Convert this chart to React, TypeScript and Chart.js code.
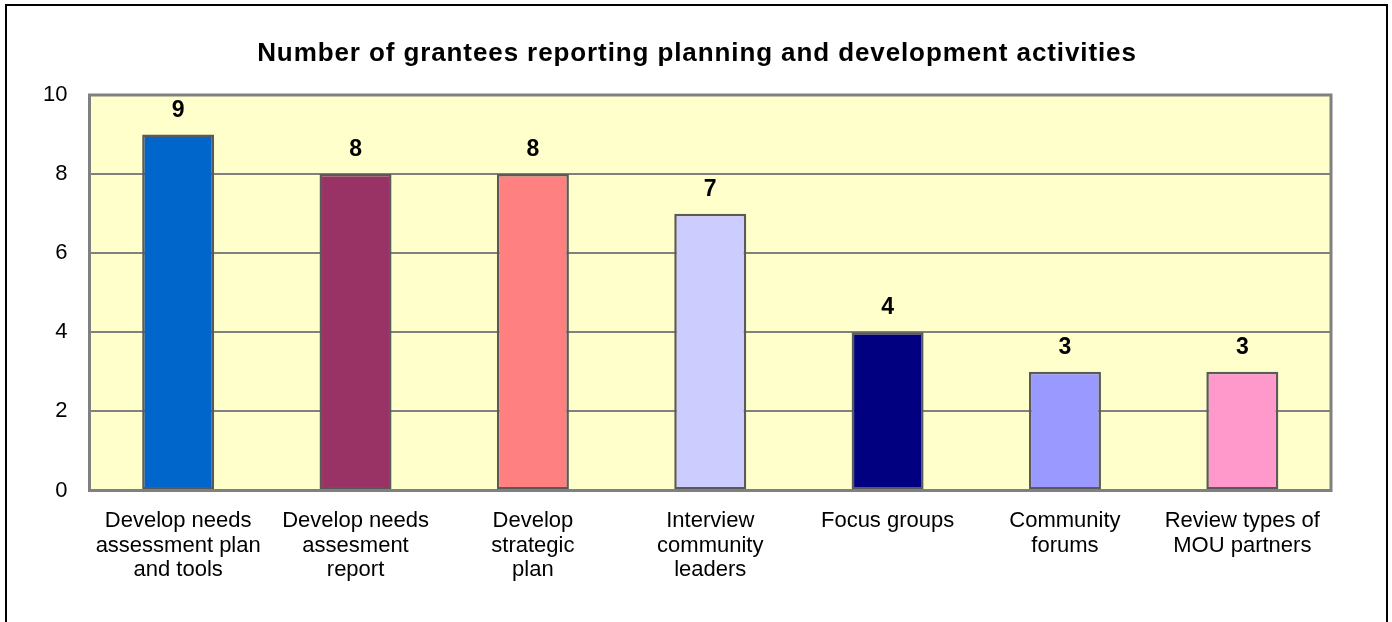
import React, { useEffect, useRef } from "react";
import { Chart, registerables } from "chart.js";

Chart.register(...registerables);

const titleText = "Number of grantees reporting planning and development activities";
const categories: string[][] = [
  ["Develop needs", "assessment plan", "and tools"],
  ["Develop needs", "assesment", "report"],
  ["Develop", "strategic", "plan"],
  ["Interview", "community", "leaders"],
  ["Focus groups"],
  ["Community", "forums"],
  ["Review types of", "MOU partners"],
];
const values: number[] = [9, 8, 8, 7, 4, 3, 3];
const barColors: string[] = ["#0066CC", "#993366", "#FF8080", "#CCCCFF", "#000080", "#9999FF", "#FF99CC"];
const yTicks: number[] = [0, 2, 4, 6, 8, 10];

const FONT = "'Liberation Sans', Arial, sans-serif";

const chartDecor = {
  id: "chartDecor",
  beforeDraw(chart: any) {
    const { ctx, chartArea } = chart;
    ctx.save();
    ctx.fillStyle = "#FFFFCC";
    ctx.fillRect(chartArea.left, chartArea.top, chartArea.right - chartArea.left, chartArea.bottom - chartArea.top);
    ctx.restore();
  },
  afterDatasetsDraw(chart: any) {
    const { ctx, chartArea } = chart;
    ctx.save();
    ctx.strokeStyle = "#808080";
    ctx.lineWidth = 3;
    ctx.strokeRect(chartArea.left, chartArea.top, chartArea.right - chartArea.left, chartArea.bottom - chartArea.top);
    // data labels
    const meta = chart.getDatasetMeta(0);
    ctx.fillStyle = "#000";
    ctx.font = `bold 23px ${FONT}`;
    ctx.textAlign = "center";
    ctx.textBaseline = "alphabetic";
    meta.data.forEach((bar: any, i: number) => {
      ctx.fillText(String(values[i]), bar.x, bar.y - 18);
    });
    // title
    ctx.font = `bold 26px ${FONT}`;
    try {
      (ctx as any).letterSpacing = "0.9px";
    } catch (e) {}
    ctx.fillText(titleText, 697, 61);
    ctx.restore();
  },
};

export default function App() {
  const ref = useRef<HTMLCanvasElement>(null);
  useEffect(() => {
    document.body.style.margin = "0";
    const chart = new Chart(ref.current!, {
      type: "bar",
      data: {
        labels: categories,
        datasets: [
          {
            data: values,
            backgroundColor: barColors,
            borderColor: "#5a5a5a",
            borderWidth: 2.5,
            borderSkipped: false,
            barPercentage: 0.406,
            categoryPercentage: 1,
          },
        ],
      },
      options: {
        responsive: false,
        animation: false,
        layout: { padding: { left: 0, top: 95, right: 61, bottom: 0 } },
        plugins: { legend: { display: false }, title: { display: false }, tooltip: { enabled: false } },
        scales: {
          x: {
            grid: { display: false, drawTicks: false },
            border: { display: false },
            ticks: {
              color: "#000",
              font: { family: FONT, size: 22, lineHeight: 1.12 },
              padding: 18,
              maxRotation: 0,
              autoSkip: false,
            },
            afterFit: (s: any) => {
              s.height = 131.5;
            },
          },
          y: {
            min: 0,
            max: 10,
            afterBuildTicks: (s: any) => {
              s.ticks = yTicks.map((v) => ({ value: v }));
            },
            grid: { color: "#808080", lineWidth: 2, drawTicks: false },
            border: { display: false },
            ticks: {
              color: "#000",
              font: { family: FONT, size: 22 },
              padding: 22,
            },
            afterFit: (s: any) => {
              s.width = 89.5;
            },
          },
        },
      },
      plugins: [chartDecor],
    });
    return () => chart.destroy();
  }, []);
  return (
    <div style={{ position: "relative", width: 1392, height: 622, overflow: "hidden", background: "#fff" }}>
      <canvas ref={ref} width={1392} height={622} style={{ display: "block" }} />
      <div
        style={{
          position: "absolute",
          left: 5,
          top: 4,
          width: 1383,
          height: 700,
          border: "2px solid #000",
          boxSizing: "border-box",
          pointerEvents: "none",
        }}
      />
    </div>
  );
}
